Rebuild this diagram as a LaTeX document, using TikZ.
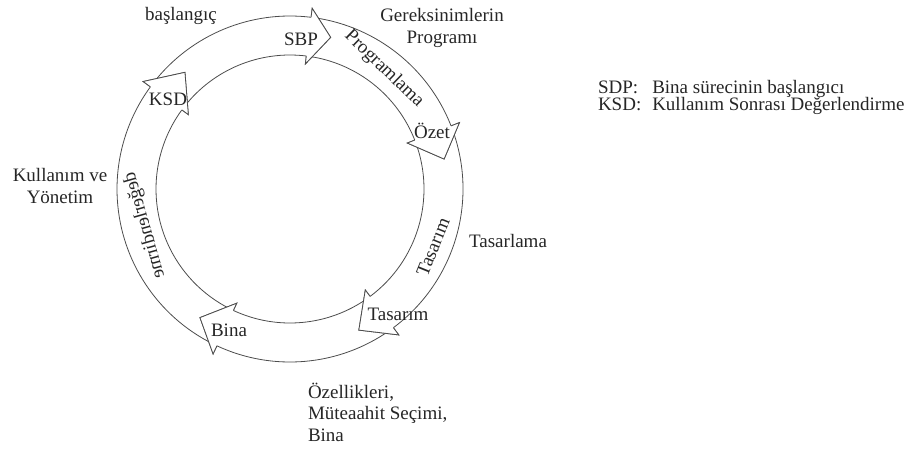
\documentclass[tikz,border=0pt]{standalone}
\usepackage{fontspec}
\setmainfont{Liberation Serif}
\usetikzlibrary{calc}
\tikzstyle{ringline} = [line width=0.8pt,draw=black!70]
\tikzstyle{ringtext} = [font=\fontsize{19}{21.5}\selectfont,inner sep=0pt,outer sep=0pt,text=black!85]

% body of one curved arrow: start angle, head base, tip
\newcommand{\ringarrow}[3]{\draw[ringline] (#1:173) arc[start angle=#1,end angle=#2,radius=173] -- (#2:182) -- (#3:157) -- (#2:126) -- (#2:134) arc[start angle=#2,end angle=#1,radius=134];}
% head again, white, over the tail of the next arrow
\newcommand{\ringhead}[2]{\filldraw[ringline,fill=white] (#1:173) -- (#1:182) -- (#2:157) -- (#1:126) -- (#1:134);}

\begin{document}
\begin{tikzpicture}[x=1pt,y=1pt]
		\useasboundingbox (0,0) rectangle (912,-450);

		\begin{scope}[shift={(290,-189)}]
			\ringarrow{142}{83}{75}
			\ringarrow{81.5}{21.4}{11}
			\ringarrow{20}{-53.3}{-64}
			\ringarrow{-55}{-115}{-125}
			\ringarrow{243.5}{143.8}{132}
			\ringhead{83}{75} \ringhead{21.4}{11} \ringhead{-53.3}{-64}
			\ringhead{-115}{-125} \ringhead{143.8}{132}
		\end{scope}

		\node[ringtext,anchor=base] (sbp) at (301,-45) {SBP};
		\node[ringtext,anchor=base] (ksd) at (168,-105) {KSD};
		\node[ringtext,anchor=base] (ozet) at (432,-138) {Özet};
		\node[ringtext,anchor=base] (tasarim) at (398,-320) {Tasarım};
		\node[ringtext,anchor=base] (bina) at (229,-336) {Bina};

		\node[ringtext,rotate=-44] (programlama) at (384,-69) {Programlama};
		\node[ringtext,rotate=68] (tasarimband) at (433,-247) {Tasarım};
		\node[ringtext,yscale=-1,rotate=74] (degerlendirme) at (145,-225) {değerlendirme};

		\node[ringtext,anchor=base] (baslangic) at (181,-20) {başlangıç};
		\node[ringtext,align=center] (gereksinim) at (442,-28) {Gereksinimlerin\\Programı};
		\node[ringtext,anchor=base] (tasarlama) at (508,-247) {Tasarlama};
		\node[ringtext,align=center] (kullanim) at (60,-186) {Kullanım ve\\Yönetim};
		\node[ringtext,align=left,anchor=north west] (ozellik) at (308,-383) {Özellikleri,\\Müteaahit Seçimi,\\Bina};

		\node[ringtext,font=\fontsize{19}{15}\selectfont,anchor=north west] (legend) at (598,-80)
			{\begin{tabular}{@{}l@{\hspace{11pt}}l@{}}SDP: & Bina sürecinin başlangıcı\\KSD: & Kullanım Sonrası Değerlendirme\end{tabular}};
	\end{tikzpicture}
\end{document}
